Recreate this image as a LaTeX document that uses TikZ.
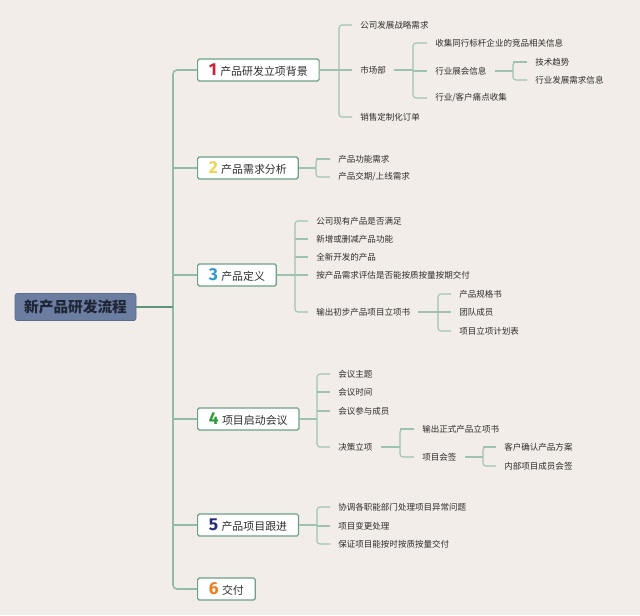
\documentclass[tikz,border=0pt]{standalone}
\usepackage{fontspec}
\setmainfont{Noto Sans CJK SC}
\newfontfamily\numfont{Fira Sans}
\definecolor{bgc}{HTML}{F2EDE8}
\definecolor{trunkc}{HTML}{94BBA8}
\definecolor{rootlinec}{HTML}{5F9479}
\definecolor{leafc}{HTML}{9DC2B0}
\definecolor{boxc}{HTML}{6AA187}
\definecolor{textc}{HTML}{2E2E2E}
\definecolor{rootc}{HTML}{6B7EA2}
\definecolor{roottext}{HTML}{1F2535}
\definecolor{nA}{HTML}{D21F33}
\definecolor{nB}{HTML}{EED64F}
\definecolor{nC}{HTML}{2A9AD6}
\definecolor{nD}{HTML}{2F9B3B}
\definecolor{nE}{HTML}{242B78}
\definecolor{nF}{HTML}{F07C22}
\newcommand\bnum[2]{{\color{#1}\numfont\bfseries\fontsize{13pt}{13pt}\selectfont #2}\hspace{2.5pt}}
\newcommand\mybracket[5]{%
  \coordinate (bx) at (#2,0);
  \draw[leafline] (#1.east) -- (bx |- #1.east);
  \draw[leafline, rounded corners=2.25pt] (#3.west) -- (bx |- #3.west) -- (bx |- #4.west) -- (#4.west);
  \foreach \c in {#5} {\draw[leafline] (bx |- \c.west) -- (\c.west);}
}
\begin{document}
\begin{tikzpicture}[x=0.75pt,y=-0.75pt,
  trunkline/.style={draw=trunkc, line width=1.2pt},
  leafline/.style={draw=leafc, line width=0.8pt},
  branchbox/.style={draw=boxc, fill=white, line width=0.9pt, rounded corners=1.2pt,
    minimum height=16.5pt, inner xsep=8.5pt, inner ysep=0pt, anchor=west,
    font=\fontsize{8.2pt}{10pt}\selectfont, text=textc},
  leaf/.style={anchor=west, inner xsep=6pt, inner ysep=1pt,
    font=\fontsize{6.4pt}{8pt}\selectfont, text=textc},
  rootbox/.style={fill=rootc, draw=rootc!85!black, line width=0.4pt, rounded corners=1.5pt,
    minimum width=90.75pt, minimum height=20.25pt, inner sep=0pt, text=roottext,
    font=\fontsize{11pt}{13pt}\selectfont\bfseries}]
\useasboundingbox[fill=bgc] (0,0) rectangle (640,615);

% root
\node[rootbox] (root) at (75.5,307) {新产品研发流程};

% branches
\node[branchbox] (b1) at (197,70) {\bnum{nA}{1}产品研发立项背景};
\node[branchbox] (b2) at (197,168) {\bnum{nB}{2}产品需求分析};
\node[branchbox] (b3) at (197,275) {\bnum{nC}{3}产品定义};
\node[branchbox] (b4) at (197,419) {\bnum{nD}{4}项目启动会议};
\node[branchbox] (b5) at (197,525) {\bnum{nE}{5}产品项目跟进};
\node[branchbox] (b6) at (197,589) {\bnum{nF}{6}交付};

% trunk
\coordinate (tx) at (173,0);
\draw[trunkline, rounded corners=3pt] (b1.west) -- (tx |- b1.west) -- (tx |- b6.west) -- (b6.west);
\foreach \b in {b2,b3,b4,b5} {\draw[trunkline] (tx |- \b.west) -- (\b.west);}
\draw[draw=rootlinec, line width=1.1pt] (root.east) -- (tx |- root.east);

% branch 1
\node[leaf] (c11) at (352,25) {公司发展战略需求};
\node[leaf] (c12) at (352,70) {市场部};
\node[leaf] (c13) at (352,117) {销售定制化订单};
\mybracket{b1}{339}{c11}{c13}{c12}
\node[leaf] (c121) at (427,43) {收集同行标杆企业的竞品相关信息};
\node[leaf] (c122) at (427,71) {行业展会信息};
\node[leaf] (c123) at (427,98) {行业/客户痛点收集};
\mybracket{c12}{413}{c121}{c123}{c122}
\node[leaf] (c1221) at (527,62) {技术趋势};
\node[leaf] (c1222) at (527,80) {行业发展需求信息};
\mybracket{c122}{513}{c1221}{c1222}{c1221}

% branch 2
\node[leaf] (c21) at (330,159) {产品功能需求};
\node[leaf] (c22) at (330,177) {产品交期/上线需求};
\mybracket{b2}{316}{c21}{c22}{c21}

% branch 3
\node[leaf] (c31) at (308,221) {公司现有产品是否满足};
\node[leaf] (c32) at (308,239) {新增或删减产品功能};
\node[leaf] (c33) at (308,257) {全新开发的产品};
\node[leaf] (c34) at (308,275) {按产品需求评估是否能按质按量按期交付};
\node[leaf] (c35) at (308,312) {输出初步产品项目立项书};
\mybracket{b3}{295}{c31}{c35}{c32,c33,c34}
\node[leaf] (c351) at (451,294) {产品规格书};
\node[leaf] (c352) at (451,312) {团队成员};
\node[leaf] (c353) at (451,331) {项目立项计划表};
\mybracket{c35}{438}{c351}{c353}{c352}

% branch 4
\node[leaf] (c41) at (330,374) {会议主题};
\node[leaf] (c42) at (330,392) {会议时间};
\node[leaf] (c43) at (330,411) {会议参与成员};
\node[leaf] (c44) at (330,447) {决策立项};
\mybracket{b4}{317}{c41}{c44}{c42,c43}
\node[leaf] (c441) at (414,429) {输出正式产品立项书};
\node[leaf] (c442) at (414,457) {项目会签};
\mybracket{c44}{400}{c441}{c442}{c441}
\node[leaf] (c4421) at (496,447) {客户确认产品方案};
\node[leaf] (c4422) at (496,466) {内部项目成员会签};
\mybracket{c442}{483}{c4421}{c4422}{c4421}

% branch 5
\node[leaf] (c51) at (330,507) {协调各职能部门处理项目异常问题};
\node[leaf] (c52) at (330,526) {项目变更处理};
\node[leaf] (c53) at (330,544) {保证项目能按时按质按量交付};
\mybracket{b5}{317}{c51}{c53}{c52}
\end{tikzpicture}
\end{document}
